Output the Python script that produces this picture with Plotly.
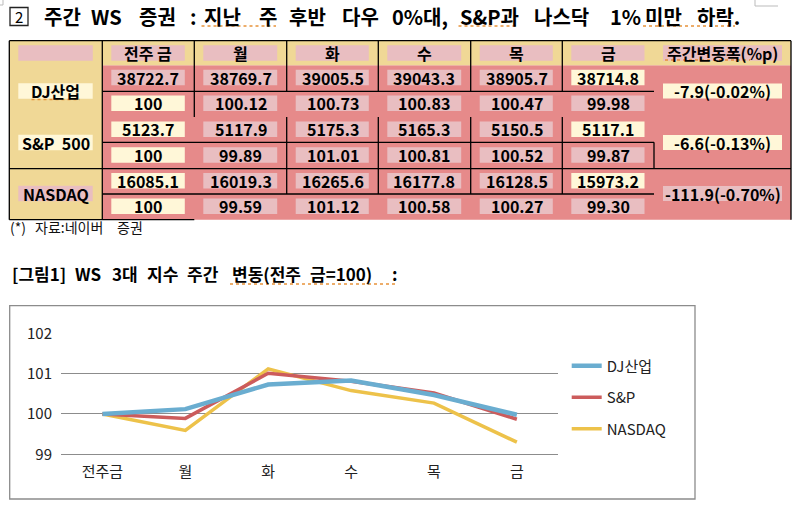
import plotly.graph_objects as go

# ---------------- data ----------------
days = ["전주금", "월", "화", "수", "목", "금"]
head_days = ["전주 금", "월", "화", "수", "목", "금"]
index_names = ["DJ산업", "S&P  500", "NASDAQ"]
legend_names = ["DJ산업", "S&P", "NASDAQ"]
dj_close = [38722.7, 38769.7, 39005.5, 39043.3, 38905.7, 38714.8]
sp_close = [5123.7, 5117.9, 5175.3, 5165.3, 5150.5, 5117.1]
nq_close = [16085.1, 16019.3, 16265.6, 16177.8, 16128.5, 15973.2]
dj_idx = [100, 100.12, 100.73, 100.83, 100.47, 99.98]
sp_idx = [100, 99.89, 101.01, 100.81, 100.52, 99.87]
nq_idx = [100, 99.59, 101.12, 100.58, 100.27, 99.30]
weekly_change = ["-7.9(-0.02%)", "-6.6(-0.13%)", "-111.9(-0.70%)"]
change_header = "주간변동폭(%p)"
y_ticks = [99, 100, 101, 102]

title_words = ["주간", "WS", "증권", ":", "지난", "주", "후반", "다우", "0%대,", "S&P과", "나스닥", "1%", "미만", "하락."]
title_word_x = [42, 89, 136.5, 188, 201.5, 256.5, 287, 340, 390, 458.5, 531.5, 608, 643, 695]
source_words = ["(*)", "자료:네이버", "증권"]
source_word_x = [8.3, 33.3, 115]
caption_words = ["[그림1]", "WS", "3대", "지수", "주간", "변동(전주", "금=100)", ":"]
caption_word_x = [10, 72.7, 110, 145, 185, 230, 308.3, 390]

# ---------------- helpers ----------------
W, H = 801, 511
FONT = "Noto Sans CJK KR"
TAN = "#F0D896"
PINK = "#E68A8A"
LPINK = "#E9BEC1"
CREAM = "#FFF7D8"
ORANGE = "#E8923A"


def X(p):
    return p / W


def Y(p):
    return 1 - p / H


shapes = []
annotations = []


def rect(x0, y0, x1, y1, fill, line=None, lw=0):
    shapes.append(dict(type="rect", xref="paper", yref="paper",
                       x0=X(x0), x1=X(x1), y0=Y(y1), y1=Y(y0),
                       fillcolor=fill, line=dict(width=lw, color=line or fill)))


def seg(x0, y0, x1, y1, color="#000000", w=1.3, dash="solid"):
    shapes.append(dict(type="line", xref="paper", yref="paper",
                       x0=X(x0), x1=X(x1), y0=Y(y0), y1=Y(y1),
                       line=dict(color=color, width=w, dash=dash)))


def text(x, y, s, size=16, bold=True, anchor="center", color="#000000"):
    annotations.append(dict(xref="paper", yref="paper", x=X(x), y=Y(y), text=s,
                            showarrow=False, xanchor=anchor, yanchor="middle",
                            font=dict(family=FONT, size=size, color=color,
                                      weight="bold" if bold else "normal")))


def fmt_idx(v):
    return "100" if v == 100 else f"{v:.2f}"


# ---------------- page marks ----------------
seg(3, 0, 3, 5, color="#BBBBBB", w=1)
seg(0, 5, 3, 5, color="#BBBBBB", w=1)
seg(755, 0, 755, 6, color="#BBBBBB", w=1)
seg(755, 6, 778, 6, color="#BBBBBB", w=1)

# ---------------- title ----------------
rect(10, 7.5, 28, 25.5, "#FFFFFF", line="#222222", lw=1.3)
text(19, 16.5, "2", size=15, bold=False)
for w_, x_ in zip(title_words, title_word_x):
    text(x_, 17, w_, size=20, bold=True, anchor="left")
for a, b in [(201.5, 276), (458.5, 517), (643, 735)]:
    seg(a, 26, b, 26, color=ORANGE, w=1.3, dash="dot")

# ---------------- table ----------------
cols = [9.3, 102.3, 194.3, 286.7, 378.3, 470.7, 562.3, 654, 791]
T_TOP, H_BOT, T_BOT = 40.7, 65.3, 219.7
row_c = [77.5, 103.3, 129.2, 155, 180.8, 206.3]
label_c = [91, 142.5, 193.5]
BOX_H = 15.6

rect(cols[1], H_BOT, cols[-1], T_BOT, PINK)
rect(cols[0], T_TOP, cols[-1], H_BOT, TAN)
rect(cols[0], T_TOP, cols[1], T_BOT, TAN)

# header boxes
rect(cols[0] + 9, 45.3, cols[1] - 9.5, 60.7, LPINK)
for i, d in enumerate(head_days):
    x0, x1 = cols[i + 1], cols[i + 2]
    rect(x0 + 9, 45.3, x1 - 9.5, 60.7, LPINK)
    text((x0 + x1) / 2, 53, d, size=16)
rect(663, 45.3, 782, 60.7, LPINK)
text(722.5, 53, change_header, size=16)
seg(665, 60, 750, 60, color=ORANGE, w=1.3, dash="dot")

closes = [dj_close, sp_close, nq_close]
idxs = [dj_idx, sp_idx, nq_idx]
for k in range(3):
    for r, (vals, f) in enumerate([(closes[k], lambda v: f"{v:.1f}"), (idxs[k], fmt_idx)]):
        yc = row_c[2 * k + r]
        for i, v in enumerate(vals):
            x0, x1 = cols[i + 1], cols[i + 2]
            if i == 0:
                fill = CREAM if not (k == 0 and r == 0) else LPINK
            elif i == 5 and r == 0:
                fill = CREAM
            else:
                fill = LPINK
            rect(x0 + 9, yc - BOX_H / 2, x1 - 9.5, yc + BOX_H / 2, fill)
            text((x0 + x1) / 2, yc, f(v), size=16)
    # index label
    lc = label_c[k]
    fill = LPINK if k == 2 else CREAM
    rect(18.3, lc - 7.8, 92.7, lc + 7.8, fill)
    text(55.5, lc, index_names[k], size=16)
    # weekly change
    rect(663, lc - 7.6, 782, lc + 7.6, fill)
    text(722.5, lc, weekly_change[k], size=16)

seg(31.5, 99.5, 80, 99.5, color=ORANGE, w=1.3, dash="dot")

# borders
seg(cols[0], T_TOP, cols[-1], T_TOP)
seg(cols[1], 91.3, cols[7], 91.3)
seg(cols[1], 142.3, cols[7], 142.3)
seg(cols[0], 168.7, cols[-1], 168.7)
seg(cols[1], 194, cols[7], 194)
seg(cols[0], T_BOT, cols[2], T_BOT)
seg(cols[0], T_TOP, cols[0], T_BOT)
seg(cols[1], T_TOP, cols[1], T_BOT)
seg(cols[2], T_TOP, cols[2], 117)
for c in cols[3:7]:
    seg(c, T_TOP, c, 91.3)
    seg(c, 117, c, 194)
seg(cols[7], 142.3, cols[7], 168.7)
seg(cols[-1], T_TOP, cols[-1], T_BOT)

for w_, x_ in zip(source_words, source_word_x):
    text(x_, 226.5, w_, size=14, bold=False, anchor="left", color="#111111")

# ---------------- chart caption & frame ----------------
for w_, x_ in zip(caption_words, caption_word_x):
    text(x_, 273, w_, size=17, bold=True, anchor="left")
seg(230, 284, 397, 284, color=ORANGE, w=1.3, dash="dot")
rect(9.7, 305.7, 695, 499, "rgba(0,0,0,0)", line="#8C8C8C", lw=1.3)

# ---------------- chart ----------------
fig = go.Figure()
series = [(nq_idx, "NASDAQ", "#EDC24A", 3.5, 3),
          (sp_idx, "S&P", "#CC5C5C", 3.5, 2),
          (dj_idx, "DJ산업", "#6AADD0", 4.5, 1)]
for vals, name, color, width, rank in series:
    fig.add_trace(go.Scatter(x=days, y=vals, mode="lines", name=name,
                             line=dict(color=color, width=width),
                             legendrank=rank, legendgroup=name,
                             hoverinfo="skip"))

fig.update_layout(
    width=W, height=H, autosize=False,
    margin=dict(l=0, r=0, t=0, b=0, pad=0, autoexpand=False),
    paper_bgcolor="#FFFFFF", plot_bgcolor="#FFFFFF",
    font=dict(family=FONT, color="#222222"),
    shapes=shapes, annotations=annotations,
    showlegend=True,
    legend=dict(x=X(566.7), xanchor="left", y=Y(397.5), yanchor="middle",
                font=dict(family=FONT, size=15, color="#222222"),
                bgcolor="rgba(0,0,0,0)", traceorder="grouped",
                tracegroupgap=9, itemwidth=30),
    xaxis=dict(domain=[X(61), X(558.3)], type="category", range=[-0.5, 5.5],
               showgrid=False, showline=True, linecolor="#8C8C8C", linewidth=1,
               ticks="", tickfont=dict(family=FONT, size=15, color="#222222"),
               ticklabelstandoff=4, fixedrange=True, automargin=False),
    yaxis=dict(domain=[Y(454.3), Y(333.3)], range=[99, 102], tickvals=y_ticks,
               showgrid=True, gridcolor="#8C8C8C", gridwidth=1,
               showline=False, zeroline=False, ticks="",
               tickfont=dict(family=FONT, size=15, color="#222222"),
               ticklabelstandoff=8, fixedrange=True, automargin=False),
)

fig.write_html(
    "out.html",
    config={"displayModeBar": False},
    post_script="document.body.style.margin='0px';document.body.style.overflow='hidden';",
)
